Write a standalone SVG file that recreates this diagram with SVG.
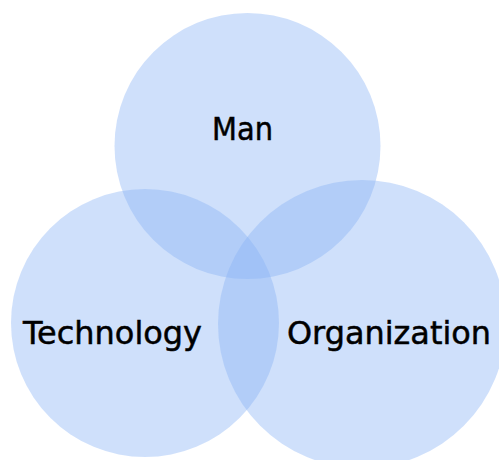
<svg xmlns="http://www.w3.org/2000/svg" width="499" height="460" viewBox="0 0 499 460">
<style>
.c{fill:#87b1f5;fill-opacity:0.4;stroke:none}
.t{font-family:"Comic Sans MS","DejaVu Sans",sans-serif;font-size:32px;fill:#000;stroke:#000;stroke-width:0.5;text-anchor:middle}
</style>
<rect width="499" height="460" fill="#fff"/>
<g id="man">
<circle class="c" cx="247.5" cy="146" r="133"/>
<text class="t" x="242.5" y="140" textLength="61" lengthAdjust="spacingAndGlyphs">Man</text>
</g>
<g id="technology">
<circle class="c" cx="145" cy="323" r="134"/>
<text class="t" x="112.5" y="344" textLength="179" lengthAdjust="spacingAndGlyphs">Technology</text>
</g>
<g id="organization">
<circle class="c" cx="362" cy="324" r="144"/>
<text class="t" x="389" y="344" textLength="204" lengthAdjust="spacingAndGlyphs">Organization</text>
</g>
<g id="connectors"/>
</svg>
